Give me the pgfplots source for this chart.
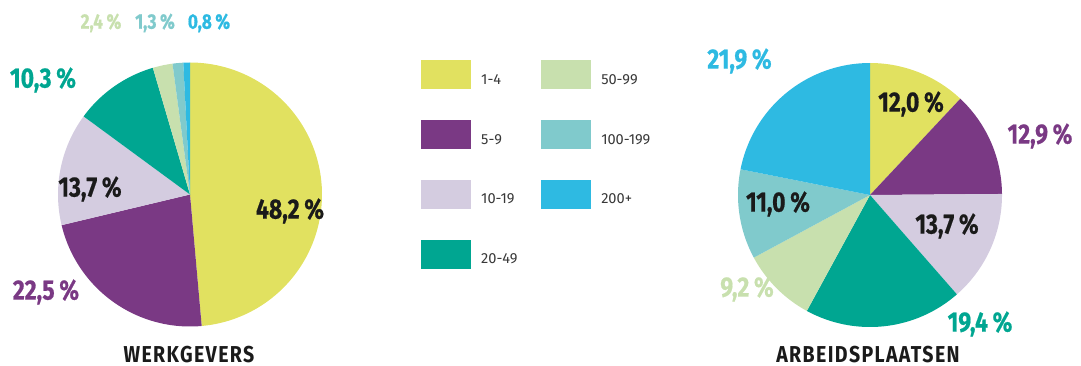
\documentclass[border=0pt]{standalone}
\usepackage{pgfplots}
\pgfplotsset{compat=1.18}
\usepackage{fontspec}
\setmainfont{Fira Sans}
\newfontfamily\pctfont[FakeStretch=0.82, BoldFeatures={FakeBold=0.6}]{Fira Sans}
\newfontfamily\ttlfont[FakeStretch=0.85]{Fira Sans}
\definecolor{cyel}{HTML}{E1E160}
\definecolor{cpur}{HTML}{7A3984}
\definecolor{clav}{HTML}{D4CCE0}
\definecolor{cteal}{HTML}{00A691}
\definecolor{clgr}{HTML}{C8E0AE}
\definecolor{cltl}{HTML}{80CACC}
\definecolor{cblu}{HTML}{2EBAE2}
\definecolor{cblk}{HTML}{1A1A1A}
% pie: center x, center y, radius, total, list value/colour
\newcommand\pie[5]{%
  \gdef\cum{0}%
  \foreach \v/\c in {#5} {%
    \pgfmathsetmacro\startang{90-\cum/#4*360}%
    \pgfmathsetmacro\newcum{\cum+\v}%
    \pgfmathsetmacro\endang{90-\newcum/#4*360}%
    \edef\temp{\noexpand\addplot[forget plot, draw=none, fill=\c, domain=\endang:\startang, samples=90]
      ({#1+#3*cos(x)},{#2+#3*sin(x)}) -- (axis cs:#1,#2) -- cycle;}%
    \temp
    \xdef\cum{\newcum}%
  }%
}
\tikzset{
  pct/.style={font=\pctfont\bfseries\fontsize{14}{14}\selectfont, inner sep=0pt, anchor=center},
  pcts/.style={font=\pctfont\bfseries\fontsize{10.5}{10.5}\selectfont, inner sep=0pt, anchor=center},
  ttl/.style={font=\ttlfont\bfseries\fontsize{11.5}{11.5}\selectfont\addfontfeature{LetterSpace=6}, inner sep=0pt, anchor=base, text=cblk},
}
\begin{document}
\begin{tikzpicture}
\begin{axis}[
  width=540.5pt, height=182.5pt, scale only axis,
  xmin=0, xmax=1081, ymin=0, ymax=365,
  hide axis, clip=false,
  legend columns=2,
  legend cell align=left,
  legend image code/.code={\fill[#1] (0pt,-4pt) rectangle (24.5pt,10pt); \path (27.5pt,0pt);},
  legend style={draw=none, fill=none, inner sep=0pt,
    at={(axis cs:421,305)}, anchor=north west,
    font=\fontsize{7.3}{8}\selectfont, text=black!78,
    row sep=14.5pt,
    /tikz/every even column/.append style={column sep=10pt}},
]
\path (axis cs:0,0) rectangle (axis cs:1081,365);
% WERKGEVERS
\pie{190}{170.5}{132}{99.2}{48.2/cyel, 22.5/cpur, 13.7/clav, 10.3/cteal, 2.4/clgr, 1.3/cltl, 0.8/cblu}
% ARBEIDSPLAATSEN
\pie{870}{170}{132}{100.1}{12.0/cyel, 12.9/cpur, 13.7/clav, 19.4/cteal, 9.2/clgr, 11.0/cltl, 21.9/cblu}

\addlegendimage{cyel}
\addlegendentry{1-4}
\addlegendimage{clgr}
\addlegendentry{50-99}
\addlegendimage{cpur}
\addlegendentry{5-9}
\addlegendimage{cltl}
\addlegendentry{100-199}
\addlegendimage{clav}
\addlegendentry{10-19}
\addlegendimage{cblu}
\addlegendentry{200+}
\addlegendimage{cteal}
\addlegendentry{20-49}

% labels left
\node[pct, text=cblk] at (axis cs:290,154) {48,2\,\%};
\node[pct, text=cblk] at (axis cs:90,176) {13,7\,\%};
\node[pct, text=cpur] at (axis cs:46,73) {22,5\,\%};
\node[pct, text=cteal] at (axis cs:43,285) {10,3\,\%};
\node[pcts, text=clgr] at (axis cs:101,342) {2,4\,\%};
\node[pcts, text=cltl] at (axis cs:155,342) {1,3\,\%};
\node[pcts, text=cblu] at (axis cs:209,342) {0,8\,\%};
\node[ttl] at (axis cs:189,3) {WERKGEVERS};
% labels right
\node[pct, text=cblu] at (axis cs:739.5,304) {21,9\,\%};
\node[pct, text=cblk] at (axis cs:911,261) {12,0\,\%};
\node[pct, text=cpur] at (axis cs:1040,229) {12,9\,\%};
\node[pct, text=cblk] at (axis cs:947,139) {13,7\,\%};
\node[pct, text=cblk] at (axis cs:778,161) {11,0\,\%};
\node[pct, text=clgr] at (axis cs:747,76) {9,2\,\%};
\node[pct, text=cteal] at (axis cs:980,41) {19,4\,\%};
\node[ttl] at (axis cs:868,3) {ARBEIDSPLAATSEN};
\end{axis}
\end{tikzpicture}
\end{document}
